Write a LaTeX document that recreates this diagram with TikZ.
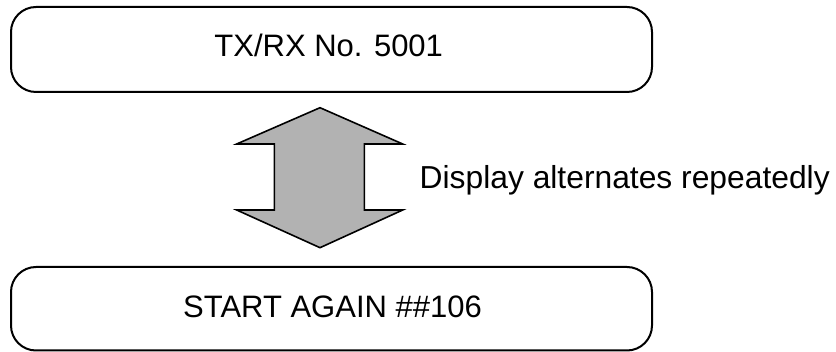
\documentclass[tikz,border=0pt]{standalone}
\usepackage{fontspec}
\setmainfont{Liberation Sans}
\begin{document}
\begin{tikzpicture}[x=1pt,y=-1pt,
  roundbox/.style={draw=black, line width=2pt, rounded corners=25pt, inner sep=0pt},
  lbl/.style={font=\fontsize{31}{37}\selectfont, inner sep=0pt, anchor=base},
  bigarrow/.style={draw=black, line width=1.6pt, fill=black!30, line join=miter}]
\useasboundingbox (0,0) rectangle (836,352);
% boxes
\node[roundbox, minimum width=641pt, minimum height=85pt] (top) at (331.5,49.5) {};
\node[roundbox, minimum width=641pt, minimum height=83.5pt] (bot) at (331.5,308.75) {};
\node[lbl] (toptext) at (328.7,57) {TX/RX No. 5001};
\node[lbl] (bottext) at (332.5,318) {START AGAIN \#\#106};
% double arrow
\draw[bigarrow] (320,107.7) -- (402.7,144) -- (364.3,144) -- (364.3,210) -- (402.7,210)
  -- (320,247.7) -- (236.7,210) -- (274.3,210) -- (274.3,144) -- (236.7,144) -- cycle;
\node[lbl, font=\fontsize{31.8}{38}\selectfont, anchor=base west] (note) at (419.5,189) {Display alternates repeatedly};
\end{tikzpicture}
\end{document}
